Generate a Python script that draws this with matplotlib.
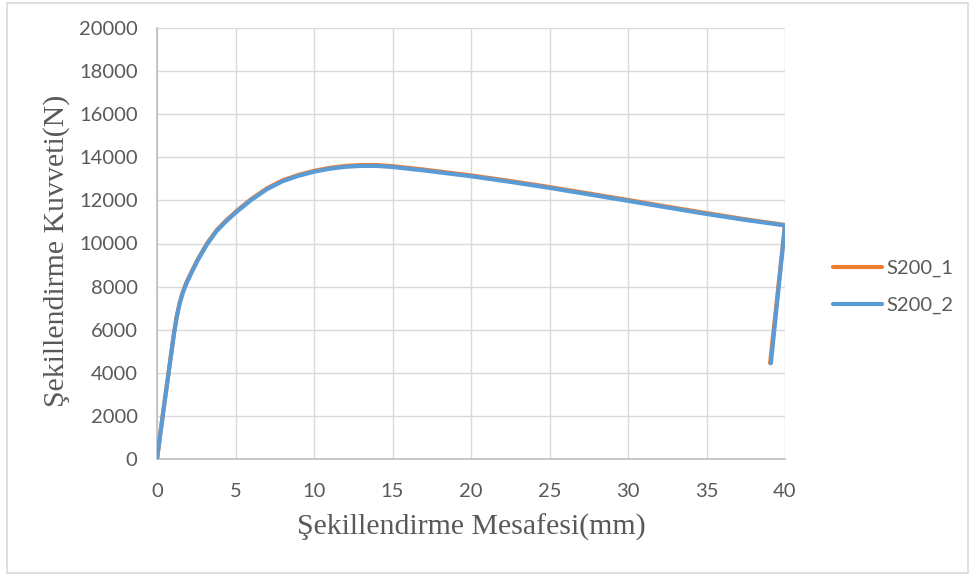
import matplotlib
matplotlib.use("Agg")
import matplotlib.pyplot as plt
from matplotlib.patches import Rectangle

# Forming force vs. forming displacement for two S200 specimens
s200_1_x = [0.0, 0.2, 0.43, 0.6, 0.75, 0.92, 1.08, 1.25, 1.45, 1.65, 1.87, 2.2, 2.6,
            3.2, 3.8, 4.4, 5.07, 6.0, 7.0, 8.0, 9.0, 10.0, 11.0, 12.0, 13.0, 14.0,
            15.0, 17.0, 20.0, 22.5, 25.0, 27.5, 30.0, 32.5, 35.0, 37.5, 40.0, 39.05]
s200_1_y = [0, 1130, 2390, 3290, 4090, 4990, 5840, 6600, 7270, 7770, 8180, 8690, 9270,
            10020, 10620, 11070, 11510, 12060, 12560, 12930, 13180, 13370, 13510,
            13600, 13640, 13640, 13590, 13430, 13160, 12900, 12620, 12320, 12020,
            11710, 11410, 11120, 10860, 4450]

s200_2_x = [0.0, 0.2, 0.43, 0.6, 0.75, 0.92, 1.08, 1.25, 1.45, 1.65, 1.87, 2.2, 2.6,
            3.2, 3.8, 4.4, 5.07, 6.0, 7.0, 8.0, 9.0, 10.0, 11.0, 12.0, 13.0, 14.0,
            15.0, 17.0, 20.0, 22.5, 25.0, 27.5, 30.0, 32.5, 35.0, 37.5, 40.0, 39.1]
s200_2_y = [0, 1100, 2350, 3250, 4050, 4950, 5800, 6560, 7230, 7730, 8140, 8650, 9230,
            9980, 10580, 11030, 11470, 12020, 12520, 12890, 13140, 13330, 13470,
            13560, 13600, 13600, 13550, 13390, 13120, 12860, 12580, 12280, 11980,
            11670, 11370, 11090, 10840, 4440]

series_names = ["S200_1", "S200_2"]
series_colors = ["#ED7D31", "#5B9BD5"]

x_ticks = [0, 5, 10, 15, 20, 25, 30, 35, 40]
y_ticks = [0, 2000, 4000, 6000, 8000, 10000, 12000, 14000, 16000, 18000, 20000]

W, H = 976, 577
fig = plt.figure(figsize=(W / 100, H / 100), dpi=100)
fig.patch.set_facecolor("white")

# outer chart border
fig.patches.append(Rectangle((7 / W, 1 - 573 / H), (968 - 7) / W, (573 - 3) / H,
                             transform=fig.transFigure, fill=False,
                             edgecolor="#d9d9d9", linewidth=1.2))

ax = fig.add_axes([157 / W, 1 - 459 / H, (785 - 157) / W, (459 - 28) / H])

ax.plot(s200_1_x, s200_1_y, color=series_colors[0], lw=3.0,
        solid_joinstyle="round", solid_capstyle="round", label=series_names[0], zorder=3)
ax.plot(s200_2_x, s200_2_y, color=series_colors[1], lw=3.0,
        solid_joinstyle="round", solid_capstyle="round", label=series_names[1], zorder=4)

ax.set_xlim(0, 40)
ax.set_ylim(0, 20000)
ax.set_xticks(x_ticks)
ax.set_yticks(y_ticks)
ax.set_xticklabels([str(v) for v in x_ticks])
ax.set_yticklabels([str(v) for v in y_ticks])
ax.grid(True, color="#d9d9d9", lw=1.0, zorder=0)
ax.set_axisbelow(True)
for side in ["top", "right"]:
    ax.spines[side].set_visible(False)
for side in ["left", "bottom"]:
    ax.spines[side].set_color("#bfbfbf")
    ax.spines[side].set_linewidth(1.2)
ax.tick_params(length=0, labelsize=14.5, labelcolor="#595959")
ax.tick_params(axis="y", pad=14)
ax.tick_params(axis="x", pad=17)
for lbl in ax.get_xticklabels() + ax.get_yticklabels():
    lbl.set_family("Lato")

fig.text(471 / W, 1 - 527 / H, "Şekillendirme Mesafesi(mm)", ha="center", va="center",
         family="Liberation Serif", fontsize=21.5, color="#595959")
fig.text(57 / W, 1 - 251 / H, "Şekillendirme Kuvveti(N)", ha="center", va="center",
         rotation=90, family="Liberation Serif", fontsize=21.5, color="#595959")

leg = ax.legend(loc="center left", bbox_to_anchor=(833 / W, 1 - 287 / H),
                bbox_transform=fig.transFigure, frameon=False,
                prop={"family": "Lato", "size": 14.5}, handlelength=2.45,
                handletextpad=0.2, labelspacing=1.0, borderaxespad=0, borderpad=0)
for t in leg.get_texts():
    t.set_color("#595959")
for h in leg.get_lines():
    h.set_linewidth(3.0)

fig.savefig("out.png", dpi=100)
